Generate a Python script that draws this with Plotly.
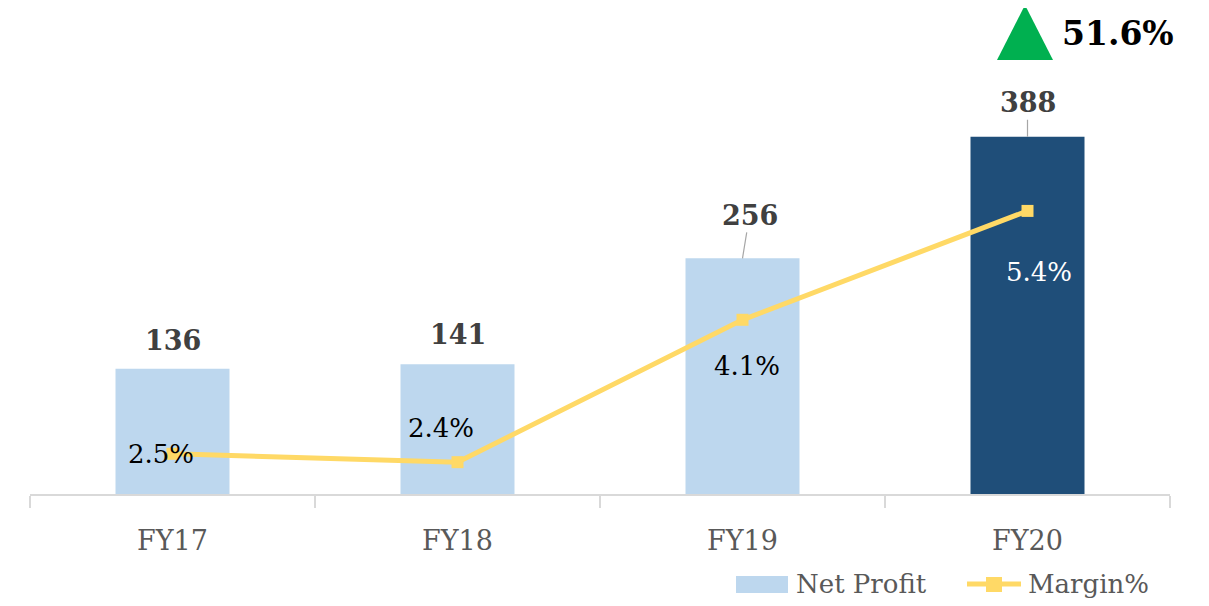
import plotly.graph_objects as go

categories = ["FY17", "FY18", "FY19", "FY20"]
net_profit = [136, 141, 256, 388]
margin_pct = [2.5, 2.4, 4.1, 5.4]
bar_colors = ["#BDD7EE", "#BDD7EE", "#BDD7EE", "#1F4E79"]
growth_label = "51.6%"
legend_names = ["Net Profit", "Margin%"]

FONT = "DejaVu Serif"
BAR_LIGHT = "#BDD7EE"
LINE_COL = "#FFD966"

# page-pixel -> paper helpers (plot area spans 30..1170 x, 30..494 y on the page)
def px(sx):
    return (sx - 30) / 1140

def py(sy):
    return (494 - sy) / 464

fig = go.Figure()
fig.add_trace(go.Bar(
    x=categories, y=net_profit, name=legend_names[0],
    marker=dict(color=bar_colors, line=dict(width=0)),
    width=0.4, yaxis="y", showlegend=False,
))
fig.add_trace(go.Scatter(
    x=categories, y=margin_pct, name=legend_names[1], mode="lines+markers",
    line=dict(color=LINE_COL, width=5),
    marker=dict(symbol="square", size=12, color=LINE_COL),
    yaxis="y2", showlegend=False,
))

# bar value labels
bar_offsets = [(0, -28, False), (0, -30, False), (7, -43, True), (0, -34, True)]
for c, v, (ax, ay, arrow) in zip(categories, net_profit, bar_offsets):
    if arrow:
        fig.add_annotation(x=c, y=v, xref="x", yref="y", text=f"<b>{v}</b>",
                           showarrow=True, arrowhead=0, arrowwidth=1.2, arrowcolor="#A6A6A6",
                           ax=ax, ay=ay, standoff=0,
                           font=dict(family=FONT, size=27, color="#404040"))
    else:
        fig.add_annotation(x=c, y=v, xref="x", yref="y", text=f"<b>{v}</b>",
                           showarrow=False, yshift=-ay,
                           font=dict(family=FONT, size=27, color="#404040"))

# margin labels
margin_offsets = [(-12, 0, "#000000"), (-17, 34, "#000000"), (4, -46, "#000000"), (11, -61, "#FFFFFF")]
for c, m, (xs, ys, col) in zip(categories, margin_pct, margin_offsets):
    fig.add_annotation(x=c, y=m, xref="x", yref="y2", text=f"{m}%",
                       showarrow=False, xshift=xs, yshift=ys,
                       font=dict(family=FONT, size=26, color=col))

# growth indicator
fig.add_shape(type="path", xref="paper", yref="paper",
              path=f"M {px(997)} {py(60)} L {px(1025)} {py(5)} L {px(1053)} {py(60)} Z",
              fillcolor="#00B050", line=dict(width=0))
fig.add_annotation(x=px(1118), y=py(33), xref="paper", yref="paper",
                   xanchor="center", yanchor="middle",
                   text=f"<b>{growth_label}</b>", showarrow=False,
                   font=dict(family=FONT, size=33, color="#000000"))

# custom legend
fig.add_shape(type="rect", xref="paper", yref="paper",
              x0=px(736), x1=px(788), y0=py(593), y1=py(576),
              fillcolor=BAR_LIGHT, line=dict(width=0))
fig.add_annotation(x=px(794), y=py(584), xref="paper", yref="paper",
                   xanchor="left", yanchor="middle",
                   text=legend_names[0], showarrow=False,
                   font=dict(family=FONT, size=26, color="#595959"))
fig.add_shape(type="line", xref="paper", yref="paper",
              x0=px(967), x1=px(1021), y0=py(584), y1=py(584),
              line=dict(color=LINE_COL, width=5))
fig.add_shape(type="rect", xref="paper", yref="paper",
              x0=px(986), x1=px(1002), y0=py(592), y1=py(577),
              fillcolor=LINE_COL, line=dict(width=0))
fig.add_annotation(x=px(1026), y=py(584), xref="paper", yref="paper",
                   xanchor="left", yanchor="middle",
                   text=legend_names[1], showarrow=False,
                   font=dict(family=FONT, size=26, color="#595959"))

fig.update_layout(
    width=1201, height=598,
    margin=dict(l=22, r=39, t=22, b=112),
    plot_bgcolor="white", paper_bgcolor="white",
    showlegend=False,
    xaxis=dict(
        type="category", showgrid=False, showline=True, linecolor="#D9D9D9", linewidth=2,
        ticks="outside", tickson="boundaries", ticklen=12, tickcolor="#D9D9D9", tickwidth=2,
        tickfont=dict(family=FONT, size=27, color="#595959"),
        ticklabelstandoff=22,
        range=[-0.5, 3.5],
    ),
    yaxis=dict(range=[0, 504], visible=False, showgrid=False, zeroline=False),
    yaxis2=dict(range=[2.02, 7.56], overlaying="y", visible=False, showgrid=False, zeroline=False),
)

fig.write_html("out.html")
